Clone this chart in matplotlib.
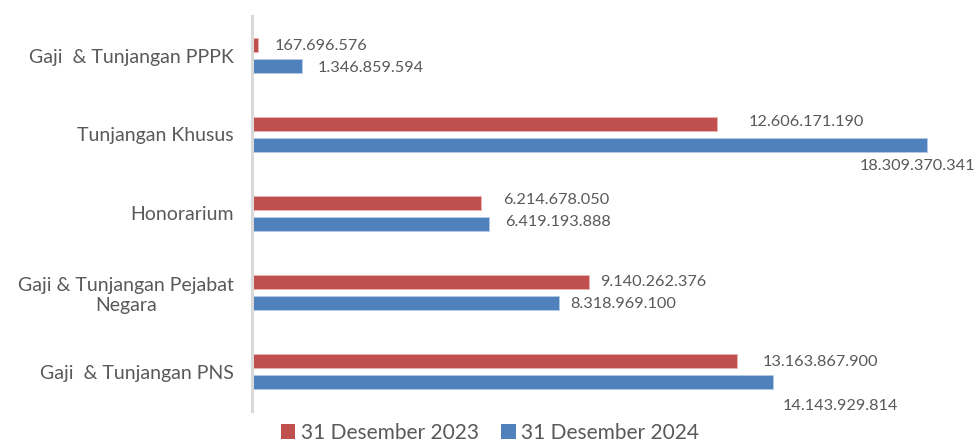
import matplotlib
matplotlib.use("Agg")
import matplotlib.pyplot as plt
from matplotlib.patches import Patch
import numpy as np

plt.rcParams['font.family'] = ['Lato', 'DejaVu Sans']

categories = ["Gaji  & Tunjangan PNS", "Gaji & Tunjangan Pejabat\nNegara", "Honorarium",
              "Tunjangan Khusus", "Gaji  & Tunjangan PPPK"]
vals_2023 = [13163867900, 9140262376, 6214678050, 12606171190, 167696576]
vals_2024 = [14143929814, 8318969100, 6419193888, 18309370341, 1346859594]
series_names = ["31 Desember 2023", "31 Desember 2024"]

# label offsets in pixels (dx from bar end, dy from bar center, y up)
off_2023 = [(26, -0.5), (11, 0.5), (22, 2.5), (32, 2.5), (17, -0.5)]
off_2024 = [(9, -24.5), (12, -1.5), (17, 2.5), (-67, -20.5), (16, -1.5)]

red = "#C0504D"
blue = "#4F81BD"
txt = "#595959"

def fmt(v):
    return f"{v:,}".replace(",", ".")

fig = plt.figure(figsize=(9.8, 4.43), dpi=100)
ax = fig.add_axes([252/980, 32/443, 713/980, 395/443])

y = np.arange(len(categories))
h = 14/79
d = 10.5/79
ax.barh(y + d, vals_2023, height=h, color=red, edgecolor="#E8B4B3", linewidth=0.6)
ax.barh(y - d, vals_2024, height=h, color=blue, edgecolor="#B4CBE6", linewidth=0.6)

for i in range(len(categories)):
    ax.annotate(fmt(vals_2023[i]), (vals_2023[i], y[i] + d), xytext=off_2023[i],
                textcoords="offset pixels", ha="left", va="center", fontsize=11.7, color=txt)
    ax.annotate(fmt(vals_2024[i]), (vals_2024[i], y[i] - d), xytext=off_2024[i],
                textcoords="offset pixels", ha="left", va="center", fontsize=11.7, color=txt)

ax.set_xlim(0, 713/36.85 * 1e9)
ax.set_ylim(-0.5, len(categories) - 0.5)
ax.set_yticks(y)
ax.set_yticklabels(categories, fontsize=14, color=txt, multialignment="center")
ax.tick_params(axis="y", length=0, pad=13)
ax.set_xticks([])
for s in ["top", "right", "bottom"]:
    ax.spines[s].set_visible(False)
ax.spines["left"].set_color("#D9D9D9")
ax.spines["left"].set_linewidth(2.2)

handles = [Patch(facecolor=red, label=series_names[0]), Patch(facecolor=blue, label=series_names[1])]
fig.legend(handles=handles, loc="center", bbox_to_anchor=(490/980, 1 - 433/443), ncol=2,
           frameon=False, fontsize=15, handlelength=0.7, handleheight=0.7, handletextpad=0.25,
           columnspacing=1.1, labelcolor=txt)

fig.savefig("out.png", dpi=100)
